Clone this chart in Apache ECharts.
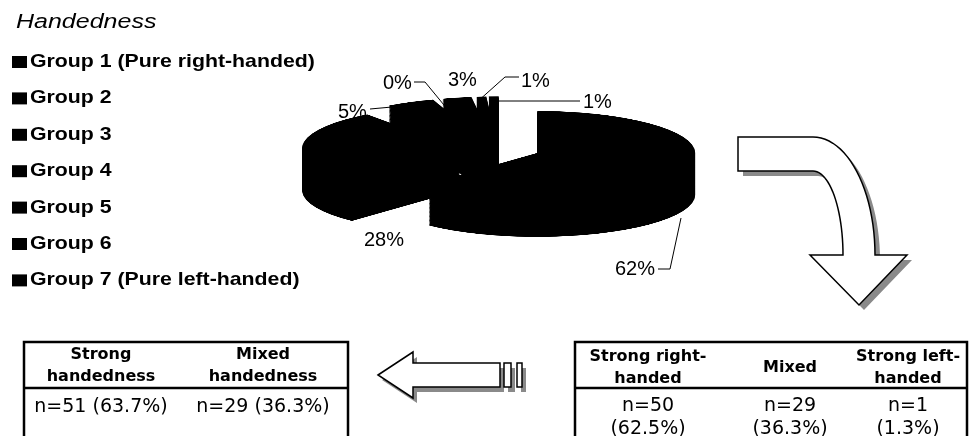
<!DOCTYPE html>
<html>
<head>
<meta charset="utf-8">
<script src="https://cdn.jsdelivr.net/npm/echarts@6/dist/echarts.min.js"></script>
<style>
  html, body { margin: 0; padding: 0; background: #fff; }
  #wrap { position: relative; width: 970px; height: 436px; overflow: hidden; }
  #pie { position: absolute; left: 280px; top: 0; width: 440px; height: 1640px; transform-origin: 0 0; }
  #main { position: absolute; left: 0; top: 0; width: 970px; height: 436px; }
</style>
</head>
<body>
<div id="wrap">
  <div id="pie"></div>
  <div id="main"></div>
</div>
<script>
// ---- data ----
const groupNames = ['Group 1 (Pure right-handed)', 'Group 2', 'Group 3', 'Group 4', 'Group 5', 'Group 6', 'Group 7 (Pure left-handed)'];
const pieValues = [62, 28, 5, 0, 3, 1, 1];            // percent of participants per group
const summaryHeaders = [['Strong', 'handedness'], ['Mixed', 'handedness']];
const summaryValues = ['n=51 (63.7%)', 'n=29 (36.3%)'];
const detailHeaders = [['Strong right-', 'handed'], ['Mixed'], ['Strong left-', 'handed']];
const detailValues = [['n=50', '(62.5%)'], ['n=29', '(36.3%)'], ['n=1', '(1.3%)']];

// ---- 3D-looking exploded pie: stacked pie layers in a vertically squashed container ----
const PIE_LEFT = 280;      // container offset on the page
const CX = 500 - PIE_LEFT; // pie centre x inside the container
const CY = 149;            // on-screen y of the top face centre
const R = 158;             // horizontal radius
const RY = 42;             // on-screen vertical radius of the top face
const DEPTH = 42;          // on-screen thickness of the pie
const squash = RY / R;

const pieEl = document.getElementById('pie');
pieEl.style.transform = 'scaleY(' + squash + ')';
const pieChart = echarts.init(pieEl, null, { renderer: 'canvas' });

const layers = [];
for (let k = DEPTH; k >= 0; k--) {
  layers.push({
    type: 'pie',
    center: [CX, (CY + k) / squash],
    radius: R,
    startAngle: 90,
    clockwise: true,
    selectedMode: 'multiple',
    selectedOffset: 40,
    silent: true,
    animation: false,
    label: { show: false },
    labelLine: { show: false },
    emphasis: { disabled: true },
    itemStyle: { color: '#000', borderWidth: 0 },
    select: { itemStyle: { color: '#000', borderWidth: 0 } },
    data: pieValues.map((v, i) => ({ name: groupNames[i], value: v, selected: true }))
  });
}
pieChart.setOption({ animation: false, series: layers });

// ---- annotations, legend, tables and arrows ----
const chart = echarts.init(document.getElementById('main'), null, { renderer: 'canvas' });
const g = [];

// title
g.push({
  type: 'text', x: 16, y: 22, scaleX: 1.25,
  style: { text: 'Handedness', font: 'italic 20px "Liberation Sans", Arial, sans-serif', fill: '#000', verticalAlign: 'middle' }
});

// legend
groupNames.forEach((name, i) => {
  const yc = 62 + i * 36.4;
  g.push({ type: 'rect', shape: { x: 12, y: yc - 6, width: 15, height: 12 }, style: { fill: '#000' } });
  g.push({
    type: 'text', x: 30, y: yc, scaleX: 1.15,
    style: { text: name, font: 'bold 18.5px "Liberation Sans", Arial, sans-serif', fill: '#000', verticalAlign: 'middle' }
  });
});

// slice labels with leader lines
const labelSpots = [
  { x: 615, y: 269, line: [[658, 269], [670, 269], [681, 218]] },
  { x: 364, y: 240, line: null },
  { x: 338, y: 112, line: [[370, 109], [392, 107]] },
  { x: 383, y: 83, line: [[414, 82], [425, 82], [458, 122]] },
  { x: 448, y: 80, line: null },
  { x: 521, y: 81, line: [[519, 77], [505, 77], [477, 102]] },
  { x: 583, y: 102, line: [[580, 101], [490, 101]] }
];
pieValues.forEach((v, i) => {
  const p = labelSpots[i];
  g.push({
    type: 'text', x: p.x, y: p.y,
    style: { text: v + '%', font: '20px "Liberation Sans", Arial, sans-serif', fill: '#000', verticalAlign: 'middle' }
  });
  if (p.line) {
    g.push({ type: 'polyline', shape: { points: p.line }, style: { stroke: '#000', lineWidth: 1, fill: null } });
  }
});

// tables
function table(x0, x1, colCenters, headers, values, headLines, valueLines) {
  g.push({ type: 'rect', shape: { x: x0, y: 342, width: x1 - x0, height: 130 }, style: { fill: null, stroke: '#000', lineWidth: 2.5 } });
  g.push({ type: 'line', shape: { x1: x0, y1: 388, x2: x1, y2: 388 }, style: { stroke: '#000', lineWidth: 2.5 } });
  colCenters.forEach((cx, c) => {
    const h = headers[c];
    const ys = h.length === 2 ? headLines : [(headLines[0] + headLines[1]) / 2];
    h.forEach((t, j) => g.push({
      type: 'text', x: cx, y: ys[j],
      style: { text: t, font: 'bold 16px "DejaVu Sans", Verdana, sans-serif', fill: '#000', align: 'center', verticalAlign: 'middle' }
    }));
    const vals = Array.isArray(values[c]) ? values[c] : [values[c]];
    vals.forEach((t, j) => g.push({
      type: 'text', x: cx, y: valueLines[j],
      style: { text: t, font: '19px "DejaVu Sans", Verdana, sans-serif', fill: '#000', align: 'center', verticalAlign: 'middle' }
    }));
  });
}
table(24, 348, [101, 263], summaryHeaders, summaryValues, [355, 377], [407]);
table(575, 967, [648, 790, 908], detailHeaders, detailValues, [357, 379], [406, 429]);

// block arrows with drop shadows
function shadowed(points, dx, dy) {
  g.push({ type: 'polygon', x: dx, y: dy, shape: { points }, style: { fill: '#8a8a8a', stroke: null } });
  g.push({ type: 'polygon', shape: { points }, style: { fill: '#fff', stroke: '#000', lineWidth: 1.5, lineJoin: 'miter' } });
}
shadowed([[378, 375], [413, 352], [413, 363], [500, 363], [500, 387], [413, 387], [413, 398]], 4, 5);
shadowed([[504, 363], [511, 363], [511, 387], [504, 387]], 4, 5);
shadowed([[517, 363], [522, 363], [522, 387], [517, 387]], 4, 5);

// bent arrow: straight shaft turning down along quarter ellipses into a head
function quarter(cx, cy, rx, ry, fromDeg, toDeg) {
  const pts = [];
  const n = 24;
  for (let i = 0; i <= n; i++) {
    const t = (fromDeg + (toDeg - fromDeg) * i / n) * Math.PI / 180;
    pts.push([cx + rx * Math.cos(t), cy - ry * Math.sin(t)]);
  }
  return pts;
}
const bent = [[738, 137]]
  .concat(quarter(813, 255, 62, 118, 90, 0))
  .concat([[907, 255], [859, 305], [810, 255]])
  .concat(quarter(813, 255, 30, 84, 0, 90))
  .concat([[738, 171]]);
shadowed(bent, 5, 5);

chart.setOption({ animation: false, graphic: { elements: g } });
</script>
</body>
</html>
